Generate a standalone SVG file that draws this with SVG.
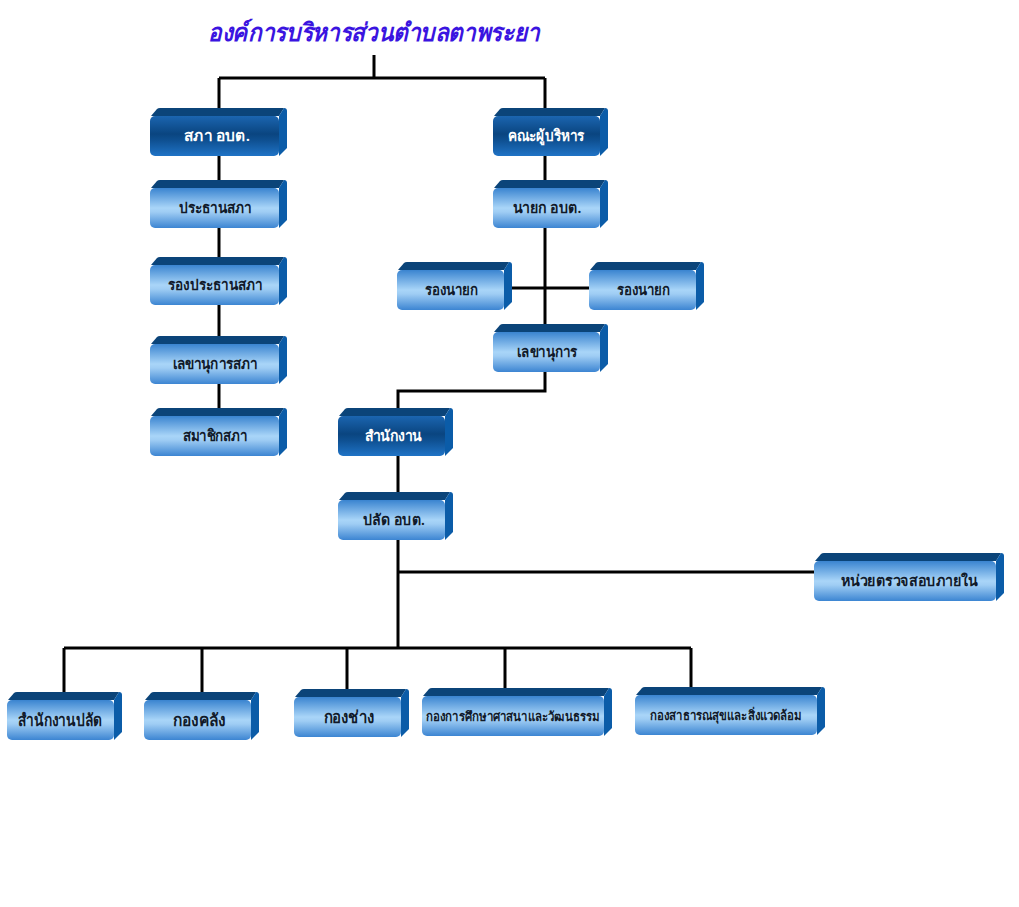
<svg xmlns="http://www.w3.org/2000/svg" xmlns:xlink="http://www.w3.org/1999/xlink" width="1019" height="907" viewBox="0 0 1019 907">
<style>
.ln{fill:none;stroke:#000;stroke-width:3}
.top{fill:#0b4479}
.side{fill:#0b5ca8}
.lt{fill:url(#gL)}
.dk{fill:url(#gD)}
.t{font-family:"Noto Sans","DejaVu Sans",sans-serif;font-size:15px;font-weight:600;fill:#111a2a;text-anchor:middle}
.tw{fill:#ffffff}
.tb{font-size:17px}
.ts{font-size:13px}
.title{font-family:"Noto Sans","DejaVu Sans",sans-serif;font-size:25px;font-weight:bold;font-style:italic;fill:#3a14e0;text-anchor:middle}
</style>
<defs>
<linearGradient id="gL" x1="0" y1="0" x2="0" y2="1">
<stop offset="0" stop-color="#3a84d0"/>
<stop offset="0.5" stop-color="#a9d5f8"/>
<stop offset="0.6" stop-color="#9fcdf4"/>
<stop offset="1" stop-color="#3c85d2"/>
</linearGradient>
<linearGradient id="gD" x1="0" y1="0" x2="0" y2="1">
<stop offset="0" stop-color="#1b65b0"/>
<stop offset="0.45" stop-color="#0a4580"/>
<stop offset="0.6" stop-color="#0e4f90"/>
<stop offset="1" stop-color="#1f73c6"/>
</linearGradient>
<g id="bL115"><path class="top" d="M1,8 L7,1 Q8,0 10,0 L112,0 L107,8 Z"/><path class="side" d="M107,8 L112,0 Q115,0 115,3 L115,40 L107,48 Z"/><rect class="lt" x="0" y="8" width="107" height="40" rx="5"/></g>
<g id="bD115"><path class="top" d="M1,8 L7,1 Q8,0 10,0 L112,0 L107,8 Z"/><path class="side" d="M107,8 L112,0 Q115,0 115,3 L115,40 L107,48 Z"/><rect class="dk" x="0" y="8" width="107" height="40" rx="5"/></g>
<g id="bL137"><path class="top" d="M1,8 L7,1 Q8,0 10,0 L134,0 L129,8 Z"/><path class="side" d="M129,8 L134,0 Q137,0 137,3 L137,40 L129,48 Z"/><rect class="lt" x="0" y="8" width="129" height="40" rx="5"/></g>
<g id="bD137"><path class="top" d="M1,8 L7,1 Q8,0 10,0 L134,0 L129,8 Z"/><path class="side" d="M129,8 L134,0 Q137,0 137,3 L137,40 L129,48 Z"/><rect class="dk" x="0" y="8" width="129" height="40" rx="5"/></g>
<g id="bL190"><path class="top" d="M1,8 L7,1 Q8,0 10,0 L187,0 L182,8 Z"/><path class="side" d="M182,8 L187,0 Q190,0 190,3 L190,40 L182,48 Z"/><rect class="lt" x="0" y="8" width="182" height="40" rx="5"/></g>
</defs>
<rect width="1019" height="907" fill="#ffffff"/>
<text class="title" x="374" y="41" textLength="332" lengthAdjust="spacingAndGlyphs">องค์การบริหารส่วนตำบลตาพระยา</text>
<g id="connectors">
<path class="ln" d="M374,55 V78 M219,78 H545 M219,78 V108 M545,78 V108"/>
<path class="ln" d="M219,156 V408"/>
<path class="ln" d="M545,156 V324 M512,288 H589"/>
<path class="ln" d="M545,372 V391 H398 V408 M398,456 V648 M398,572 H814"/>
<path class="ln" d="M64,648 H691 M64,648 V692 M202,648 V692 M347,648 V689 M505,648 V688 M691,648 V687"/>
</g>
<g id="n-sapha" transform="translate(150,108)"><use xlink:href="#bD137"/><text class="t tw" x="67" y="33" textLength="66" lengthAdjust="spacingAndGlyphs">สภา อบต.</text></g>
<g id="n-khana" transform="translate(493,108)"><use xlink:href="#bD115"/><text class="t tw" x="53" y="33" textLength="77" lengthAdjust="spacingAndGlyphs">คณะผู้บริหาร</text></g>
<g id="n-prathan" transform="translate(150,180)"><use xlink:href="#bL137"/><text class="t" x="65" y="33" textLength="73" lengthAdjust="spacingAndGlyphs">ประธานสภา</text></g>
<g id="n-rongprathan" transform="translate(150,257)"><use xlink:href="#bL137"/><text class="t" x="65" y="33" textLength="94" lengthAdjust="spacingAndGlyphs">รองประธานสภา</text></g>
<g id="n-lekhasapha" transform="translate(150,336)"><use xlink:href="#bL137"/><text class="t" x="65" y="33" textLength="85" lengthAdjust="spacingAndGlyphs">เลขานุการสภา</text></g>
<g id="n-samachik" transform="translate(150,408)"><use xlink:href="#bL137"/><text class="t" x="65" y="33" textLength="65" lengthAdjust="spacingAndGlyphs">สมาชิกสภา</text></g>
<g id="n-nayok" transform="translate(493,180)"><use xlink:href="#bL115"/><text class="t" x="54" y="33" textLength="69" lengthAdjust="spacingAndGlyphs">นายก อบต.</text></g>
<g id="n-rongnayok1" transform="translate(397,262)"><use xlink:href="#bL115"/><text class="t" x="54" y="33" textLength="53" lengthAdjust="spacingAndGlyphs">รองนายก</text></g>
<g id="n-rongnayok2" transform="translate(589,262)"><use xlink:href="#bL115"/><text class="t" x="54" y="33" textLength="53" lengthAdjust="spacingAndGlyphs">รองนายก</text></g>
<g id="n-lekhanukan" transform="translate(493,324)"><use xlink:href="#bL115"/><text class="t" x="54" y="33" textLength="60" lengthAdjust="spacingAndGlyphs">เลขานุการ</text></g>
<g id="n-samnakngan" transform="translate(338,408)"><use xlink:href="#bD115"/><text class="t tw" x="55" y="33" textLength="57" lengthAdjust="spacingAndGlyphs">สำนักงาน</text></g>
<g id="n-palat" transform="translate(338,492)"><use xlink:href="#bL115"/><text class="t" x="56" y="33" textLength="62" lengthAdjust="spacingAndGlyphs">ปลัด อบต.</text></g>
<g id="n-nuai" transform="translate(814,553)"><use xlink:href="#bL190"/><text class="t" x="95" y="33" textLength="137" lengthAdjust="spacingAndGlyphs">หน่วยตรวจสอบภายใน</text></g>
<g id="n-samnakpalat" transform="translate(7,692)"><use xlink:href="#bL115"/><text class="t tb" x="53" y="34" textLength="84" lengthAdjust="spacingAndGlyphs">สำนักงานปลัด</text></g>
<g id="n-khlang" transform="translate(144,692)"><use xlink:href="#bL115"/><text class="t tb" x="55" y="34" textLength="52" lengthAdjust="spacingAndGlyphs">กองคลัง</text></g>
<g id="n-chang" transform="translate(294,689)"><use xlink:href="#bL115"/><text class="t tb" x="55" y="34" textLength="51" lengthAdjust="spacingAndGlyphs">กองช่าง</text></g>
<g id="n-sueksa" transform="translate(422,688)"><use xlink:href="#bL190"/><text class="t ts" x="91" y="33" textLength="174" lengthAdjust="spacingAndGlyphs">กองการศึกษาศาสนาและวัฒนธรรม</text></g>
<g id="n-satharanasuk" transform="translate(635,687)"><use xlink:href="#bL190"/><text class="t ts" x="91" y="33" textLength="152" lengthAdjust="spacingAndGlyphs">กองสาธารณสุขและสิ่งแวดล้อม</text></g>
</svg>
